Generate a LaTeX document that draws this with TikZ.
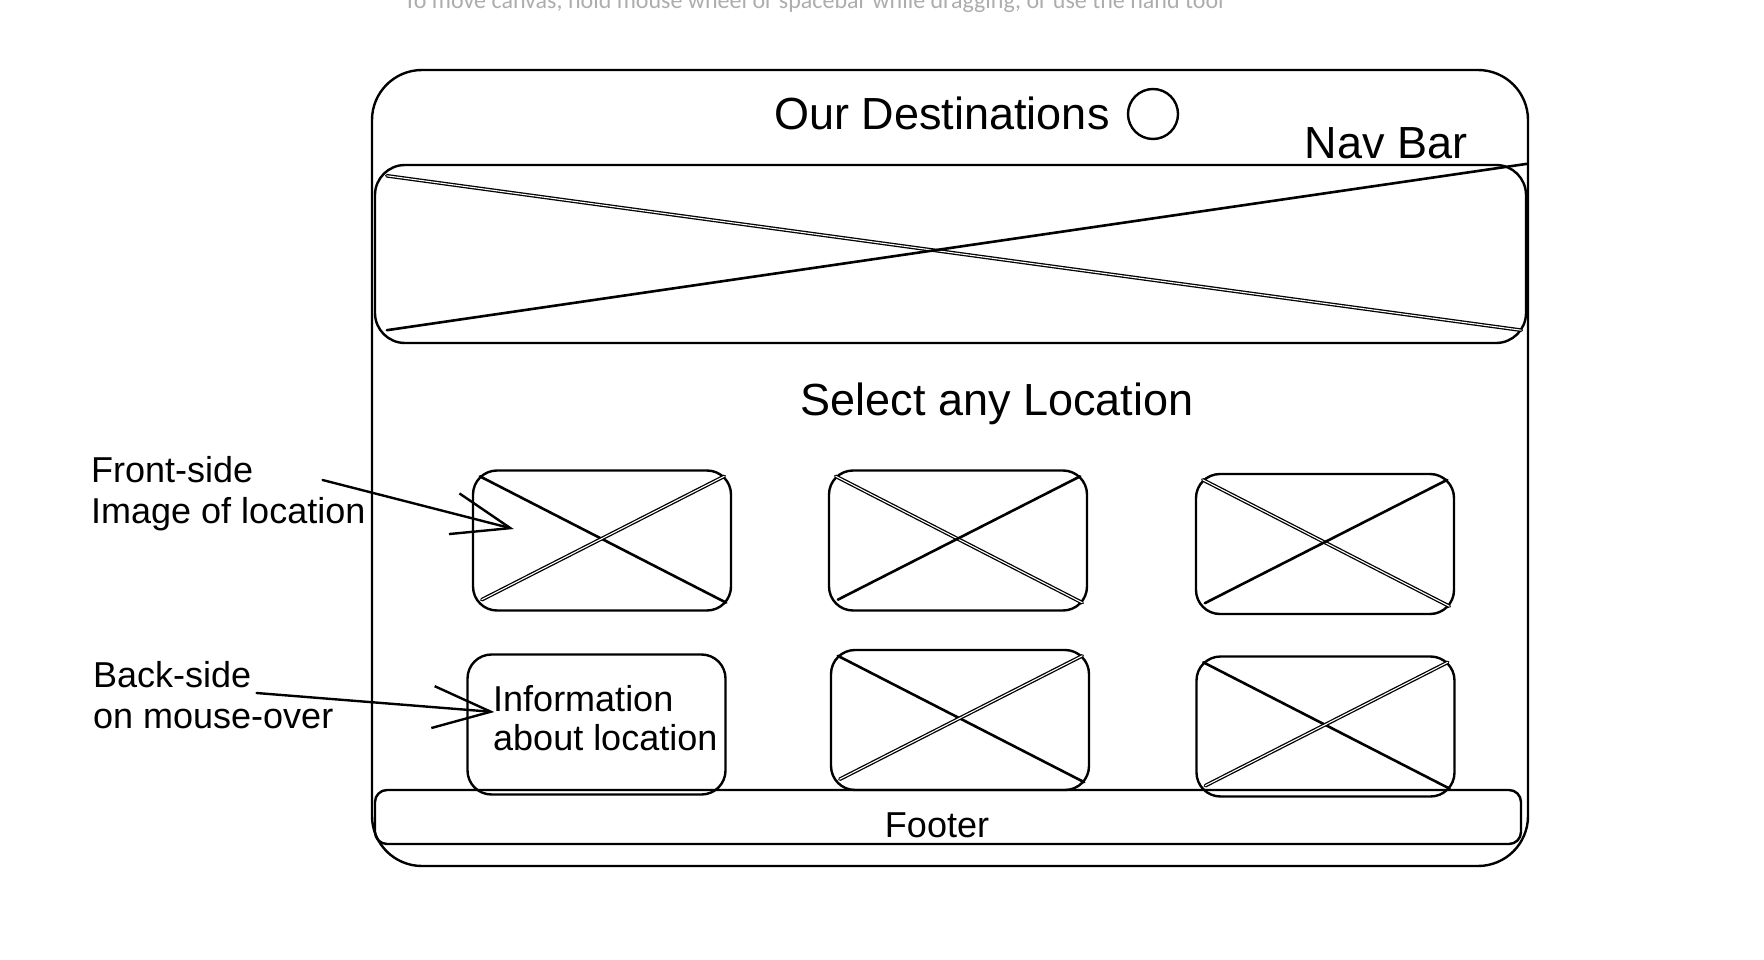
\documentclass[tikz,border=0pt]{standalone}
\usepackage{fontspec}
\setmainfont{Liberation Sans}
\newfontfamily\hintfont{Carlito}
\usetikzlibrary{arrows.meta}

\begin{document}
\begin{tikzpicture}[
    x=1pt, y=-1pt,
    line width=2.4pt, line join=round, line cap=round,
    every node/.style={align=center, inner sep=0pt},
    frame/.style={draw, rounded corners=50pt, minimum width=1156pt, minimum height=796pt},
    hero/.style={draw, rounded corners=30pt, minimum width=1151pt, minimum height=178pt},
    card/.style={draw, rounded corners=24pt, minimum width=258pt, minimum height=140pt},
    footbox/.style={draw, rounded corners=12pt, minimum width=1146pt, minimum height=54pt},
    head/.style={font=\fontsize{45}{54}\selectfont},
    note/.style={font=\fontsize{36}{41}\selectfont, align=left},
    cross/.style={double, double distance=1.1pt, line width=1.3pt},
    xsolid/.style={line width=2.6pt},
    arr/.style={-{Straight Barb[length=58pt, width=42pt]}, line width=2.4pt},
]
\useasboundingbox (0,0) rectangle (1764,960);

% Canvas hint (cut at the top)
\node[font=\hintfont\fontsize{24}{28}\selectfont, text=black!32, anchor=base] (hint) at (814,9)
    {To move canvas, hold mouse wheel or spacebar while dragging, or use the hand tool};

% Page frame and nav bar
\node[frame] (page) at (950,468) {};
\node[head] (title) at (942,113) {Our Destinations};
\node[draw, circle, minimum size=50pt] (search) at (1153,114) {};
\node[head] (navlbl) at (1386,143) {Nav Bar};

% Hero image
\node[hero] (hero) at (950.5,254) {};
\draw[cross]  ([shift={(13,12)}]hero.north west) -- ([shift={(-6,-14)}]hero.south east);
\draw[xsolid] ([shift={(13,-14)}]hero.south west) -- (hero.north east);

\node[head] (select) at (997,404) {Select any Location};

% Location cards
\node[card] (c1) at (602,540.5)    {};
\node[card] (c2) at (958,540.5)    {};
\node[card] (c3) at (1325,544)     {};
\node[card] (c4) at (596.5,724.5)  {};
\node[card] (c5) at (960,720)      {};
\node[card] (c6) at (1325.5,726.5) {};
\foreach \c/\da/\db in {c1/xsolid/cross, c2/cross/xsolid, c3/cross/xsolid, c5/xsolid/cross, c6/xsolid/cross} {
    \draw[\da] ([shift={(8,7)}]\c.north west) -- ([shift={(-6,-9)}]\c.south east);
    \draw[\db] ([shift={(10,-12)}]\c.south west) -- ([shift={(-8,7)}]\c.north east);
}
\node[note, font=\fontsize{36}{39}\selectfont, anchor=west] (info) at (492,718) {Information\\about location};

% Footer
\node[footbox] (foot) at (948,817) {};
\node[font=\fontsize{36}{40}\selectfont] (footlbl) at (937,825) {Footer};

% Notes at the left
\node[note, anchor=west] (frontlbl) at (90,494) {Front-side\\Image of location};
\node[note, anchor=west] (backlbl)  at (92,695) {Back-side\\on mouse-over};

\draw[arr] ([xshift=-44pt, yshift=14pt]frontlbl.east) -- ([xshift=42pt, yshift=11.5pt]c1.west);
\draw[arr] ([xshift=-78pt, yshift=2pt]backlbl.east) -- ([xshift=28pt, yshift=12.5pt]c4.west);

\end{tikzpicture}
\end{document}
